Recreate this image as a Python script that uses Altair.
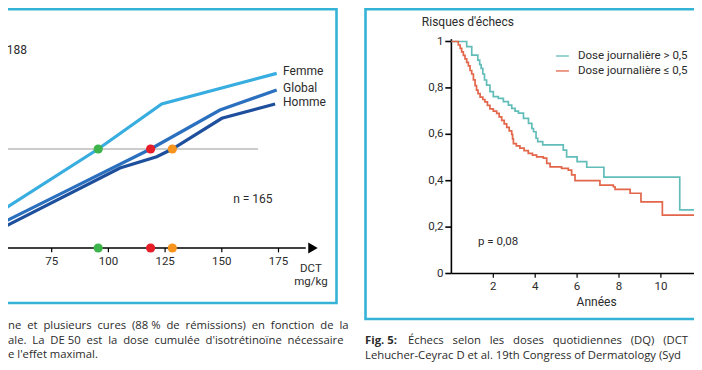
import altair as alt
import pandas as pd

FONT = "Roboto"
CAP_FONT = "Open Sans"
TXT = "#2b2b2b"
GAP = " \u00a0"

# ---------------- left panel data (DCT mg/kg vs % of remissions) ----------------
dct_ticks = [75, 100, 125, 150, 175]
dct_tick_labels = ["75", "100", "125", "150", "175"]
series_names = ["Femme", "Global", "Homme"]
series_colors = ["#38ade0", "#2a70bf", "#1d4f9c"]
femme_dct = [45, 95.5, 123.5, 174.2]
femme_pct = [13.0, 50.0, 72.7, 88.2]
global_dct = [45, 84.4, 118.6, 149.2, 174.2]
global_pct = [8.0, 30.5, 50.0, 69.7, 79.8]
homme_dct = [45, 105.1, 121.3, 128.2, 150.0, 173.5]
homme_pct = [5.4, 40.4, 46.1, 50.0, 65.5, 72.7]
de50_dct = [95.5, 118.6, 128.2]
de50_colors = ["#3db54a", "#e61e2a", "#f7941d"]
de50_level = 50
n_text = "n = 165"
top_text = "188"
left_caption_words = [
    ["ne", "et", "plusieurs", "cures", "(88 %", "de", "rémissions)", "en", "fonction", "de", "la"],
    ["ale.", "La", "DE 50", "est", "la", "dose", "cumulée", "d'isotrétinoïne", "nécessaire"],
    ["e", "l'effet", "maximal."],
]

# ---------------- right panel data (Kaplan-Meier, years vs risk) ----------------
years_ticks = [2, 4, 6, 8, 10]
risk_ticks = [0, 0.2, 0.4, 0.6, 0.8, 1]
risk_tick_labels = ["0", "0,2", "0,4", "0,6", "0,8", "1"]
hi_t = [0, 0.73, 0.97, 1.26, 1.35, 1.42, 1.50, 1.58, 1.68, 1.84, 2.0, 2.24, 2.48,
        2.72, 2.88, 3.04, 3.2, 3.44, 3.68, 3.84, 3.92, 4.04, 4.12, 4.36, 5.34,
        5.50, 6.0, 6.46, 7.28, 10.9, 13.0]
hi_s = [1.0, 0.978, 0.941, 0.92, 0.90, 0.884, 0.86, 0.834, 0.812, 0.784, 0.762,
        0.755, 0.741, 0.726, 0.712, 0.70, 0.691, 0.669, 0.647, 0.625, 0.611,
        0.583, 0.568, 0.554, 0.532, 0.503, 0.482, 0.458, 0.415, 0.274, 0.274]
lo_t = [0, 0.33, 0.42, 0.49, 0.57, 0.65, 0.73, 0.81, 0.89, 0.97, 1.05, 1.13, 1.20,
        1.27, 1.37, 1.50, 1.60, 1.72, 1.84, 2.00, 2.16, 2.28, 2.40, 2.52, 2.64,
        2.76, 2.88, 2.92, 2.96, 3.10, 3.27, 3.47, 3.67, 3.87, 4.07, 4.39, 4.55,
        4.71, 5.26, 5.58, 5.74, 5.90, 7.09, 7.73, 7.81, 8.53, 9.05, 10.07, 13.0]
lo_s = [1.0, 0.985, 0.97, 0.955, 0.94, 0.925, 0.91, 0.895, 0.875, 0.86, 0.835,
        0.81, 0.79, 0.775, 0.76, 0.75, 0.74, 0.725, 0.71, 0.70, 0.69, 0.675, 0.66,
        0.645, 0.63, 0.615, 0.60, 0.58, 0.56, 0.55, 0.54, 0.53, 0.518, 0.51, 0.503,
        0.497, 0.475, 0.46, 0.453, 0.446, 0.425, 0.40, 0.381, 0.374, 0.363, 0.346,
        0.309, 0.252, 0.252]
km_names = ["Dose journalière > 0,5", "Dose journalière ≤ 0,5"]
km_colors = ["#62bdb9", "#e2664a"]
p_text = "p = 0,08"
y_title = "Risques d'échecs"
x_title = "Années"
right_caption_bold = "Fig. 5:"
right_caption_1 = "\u00a0\u00a0\u00a0".join(
    ["Échecs", "selon", "les", "doses", "quotidiennes", "(DQ)", "(DCT"])
right_caption_2 = "Lehucher-Ceyrac D et al. 19th Congress of Dermatology (Syd"

# ---------------- scales (explicit pixel ranges on one 686x354 canvas) ----------------
LX = alt.Scale(domain=[75, 175], range=[43.7, 270.5], nice=False, zero=False)
LY = alt.Scale(domain=[0, 50], range=[240, 141], nice=False, zero=False)
RX = alt.Scale(domain=[0, 12], range=[443.4, 694.8], nice=False, zero=False)
RY = alt.Scale(domain=[0, 1], range=[265.5, 33.5], nice=False, zero=False)

def lx(f="x"):
    return alt.X(f + ":Q", scale=LX, axis=None)

def ly(f="y"):
    return alt.Y(f + ":Q", scale=LY, axis=None)

def rx(f="x"):
    return alt.X(f + ":Q", scale=RX, axis=None)

def ry(f="y"):
    return alt.Y(f + ":Q", scale=RY, axis=None)

one = pd.DataFrame({"a": [0]})
layers = []

# frames
layers.append(alt.Chart(one).mark_rect(fill="white", stroke="#35b3d6", strokeWidth=2.6).encode(
    x=alt.value(-20), x2=alt.value(328.5), y=alt.value(1.3), y2=alt.value(295)))
layers.append(alt.Chart(one).mark_rect(fill="white", stroke="#35b3d6", strokeWidth=2.6).encode(
    x=alt.value(357.5), x2=alt.value(730), y=alt.value(1.3), y2=alt.value(311)))

# ---- left panel ----
layers.append(alt.Chart(pd.DataFrame({"x": [40], "x2": [166], "y": [de50_level]})).mark_rule(
    color="#9a9a9a", strokeWidth=1.2).encode(x=lx(), x2="x2:Q", y=ly()))
rows = []
for name, xs, ys in [("Femme", femme_dct, femme_pct), ("Global", global_dct, global_pct),
                     ("Homme", homme_dct, homme_pct)]:
    for i, (a, b) in enumerate(zip(xs, ys)):
        rows.append({"s": name, "x": a, "y": b, "i": i})
curves = pd.DataFrame(rows)
layers.append(alt.Chart(curves).mark_line(strokeWidth=3.2).encode(
    x=lx(), y=ly(), order="i:Q",
    color=alt.Color("s:N", scale=alt.Scale(domain=series_names, range=series_colors), legend=None)))
lab = pd.DataFrame({"s": series_names, "x": [177.0] * 3, "y": [89.5, 80.7, 73.9]})
layers.append(alt.Chart(lab).mark_text(align="left", baseline="middle", font=FONT, fontSize=12,
                                       color=TXT).encode(x=lx(), y=ly(), text="s:N"))
layers.append(alt.Chart(pd.DataFrame({"x": [40], "x2": [187], "y": [0]})).mark_rule(
    color="black", strokeWidth=1.6).encode(x=lx(), x2="x2:Q", y=ly()))
layers.append(alt.Chart(pd.DataFrame({"x": [190.2], "y": [0]})).mark_point(
    shape="triangle-right", filled=True, color="black", opacity=1, size=120).encode(x=lx(), y=ly()))
ticks = pd.DataFrame({"x": dct_ticks, "y": [0] * 5, "y2": [-2.2] * 5, "t": dct_tick_labels,
                      "yl": [-7.1] * 5})
layers.append(alt.Chart(ticks).mark_rule(color="black", strokeWidth=1.2).encode(
    x=lx(), y=ly(), y2="y2:Q"))
layers.append(alt.Chart(ticks).mark_text(font=FONT, fontSize=11.5, color=TXT, baseline="middle").encode(
    x=lx(), y=ly("yl"), text="t:N"))
unit = pd.DataFrame({"x": [189.3, 189.3], "y": [-10.6, -17.0], "t": ["DCT", "mg/kg"]})
layers.append(alt.Chart(unit).mark_text(font=FONT, fontSize=11.5, color=TXT, baseline="middle").encode(
    x=lx(), y=ly(), text="t:N"))
pts = pd.DataFrame({"x": de50_dct * 2, "y": [de50_level] * 3 + [0] * 3,
                    "c": de50_colors * 2})
layers.append(alt.Chart(pts).mark_circle(size=85, opacity=1).encode(
    x=lx(), y=ly(), color=alt.Color("c:N", scale=None)))
layers.append(alt.Chart(pd.DataFrame({"x": [155.0], "y": [24.7], "t": [n_text]})).mark_text(
    align="left", baseline="middle", font=FONT, fontSize=12, color=TXT).encode(x=lx(), y=ly(), text="t:N"))
layers.append(alt.Chart(pd.DataFrame({"t": [top_text]})).mark_text(
    align="right", baseline="middle", font=FONT, fontSize=12, color=TXT).encode(
    x=alt.value(19), y=alt.value(42), text="t:N"))
cap = pd.DataFrame({"t": [GAP.join(w) if k < 2 else " ".join(w) for k, w in enumerate(left_caption_words)],
                    "k": [0, 1, 2]})
layers.append(alt.Chart(cap).mark_text(
    align="left", baseline="middle", font=CAP_FONT, fontSize=11.3, color=TXT).encode(
    x=alt.value(0), y=alt.Y("k:Q", scale=alt.Scale(domain=[0, 2], range=[318, 347]), axis=None),
    text="t:N"))

# ---- right panel ----
layers.append(alt.Chart(pd.DataFrame({"x": [0], "y": [0], "y2": [1.01]})).mark_rule(
    color="black", strokeWidth=1.6).encode(x=rx(), y=ry(), y2="y2:Q"))
layers.append(alt.Chart(pd.DataFrame({"x": [0], "x2": [13], "y": [0]})).mark_rule(
    color="black", strokeWidth=1.3).encode(x=rx(), x2="x2:Q", y=ry()))
yt = pd.DataFrame({"y": risk_ticks, "x": [0] * 6, "x2": [-0.29] * 6, "xl": [-0.38] * 6,
                   "t": risk_tick_labels})
layers.append(alt.Chart(yt).mark_rule(color="black", strokeWidth=1.6).encode(
    x=rx(), x2="x2:Q", y=ry()))
layers.append(alt.Chart(yt).mark_text(align="right", baseline="middle", font=FONT, fontSize=11.5,
                                      color=TXT).encode(x=rx("xl"), y=ry(), text="t:N"))
xt = pd.DataFrame({"x": years_ticks, "y": [0] * 5, "y2": [-0.018] * 5, "yl": [-0.057] * 5,
                   "t": [str(v) for v in years_ticks]})
layers.append(alt.Chart(xt).mark_rule(color="black", strokeWidth=1.2).encode(
    x=rx(), y=ry(), y2="y2:Q"))
layers.append(alt.Chart(xt).mark_text(baseline="middle", font=FONT, fontSize=11.5,
                                      color=TXT).encode(x=rx(), y=ry("yl"), text="t:N"))
layers.append(alt.Chart(pd.DataFrame({"x": [6.93], "y": [-0.121], "t": [x_title]})).mark_text(
    baseline="middle", font=FONT, fontSize=12, color=TXT).encode(x=rx(), y=ry(), text="t:N"))
layers.append(alt.Chart(pd.DataFrame({"x": [-1.41], "y": [1.086], "t": [y_title]})).mark_text(
    align="left", baseline="middle", font=FONT, fontSize=12, color=TXT).encode(x=rx(), y=ry(), text="t:N"))
km_rows = []
for name, ts, ss in [(km_names[0], hi_t, hi_s), (km_names[1], lo_t, lo_s)]:
    for i, (a, b) in enumerate(zip(ts, ss)):
        km_rows.append({"s": name, "x": a, "y": b, "i": i})
km = pd.DataFrame(km_rows)
layers.append(alt.Chart(km).mark_line(interpolate="step-after", strokeWidth=1.7).encode(
    x=rx(), y=ry(), order="i:Q",
    color=alt.Color("s:N", scale=alt.Scale(domain=km_names, range=km_colors), legend=None)))
leg = pd.DataFrame({"s": km_names, "x": [4.99, 4.99], "x2": [5.61, 5.61], "xl": [6.04, 6.04],
                    "y": [0.9375, 0.873]})
layers.append(alt.Chart(leg).mark_rule(strokeWidth=1.3).encode(
    x=rx(), x2="x2:Q", y=ry(),
    color=alt.Color("s:N", scale=alt.Scale(domain=km_names, range=km_colors), legend=None)))
layers.append(alt.Chart(leg).mark_text(align="left", baseline="middle", font=FONT, fontSize=11.5,
                                       color=TXT).encode(x=rx("xl"), y=ry(), text="s:N"))
layers.append(alt.Chart(pd.DataFrame({"x": [1.27], "y": [0.137], "t": [p_text]})).mark_text(
    align="left", baseline="middle", font=FONT, fontSize=11.5, color=TXT).encode(x=rx(), y=ry(), text="t:N"))
layers.append(alt.Chart(pd.DataFrame({"t": [right_caption_bold]})).mark_text(
    align="left", baseline="middle", font=CAP_FONT, fontSize=11.3, fontWeight="bold", color=TXT).encode(
    x=alt.value(357), y=alt.value(333), text="t:N"))
layers.append(alt.Chart(pd.DataFrame({"t": [right_caption_1]})).mark_text(
    align="left", baseline="middle", font=CAP_FONT, fontSize=11.3, color=TXT).encode(
    x=alt.value(400), y=alt.value(333), text="t:N"))
layers.append(alt.Chart(pd.DataFrame({"t": [right_caption_2]})).mark_text(
    align="left", baseline="middle", font=CAP_FONT, fontSize=11.3, color=TXT).encode(
    x=alt.value(357), y=alt.value(347.5), text="t:N"))

chart = alt.layer(*layers).resolve_scale(x="independent", y="independent", color="independent").properties(
    width=686, height=354, padding=0, autosize=alt.AutoSizeParams(type="none"),
    background="white").configure_view(strokeWidth=0)

chart.save("out.html", embed_options={"renderer": "svg", "actions": False})
